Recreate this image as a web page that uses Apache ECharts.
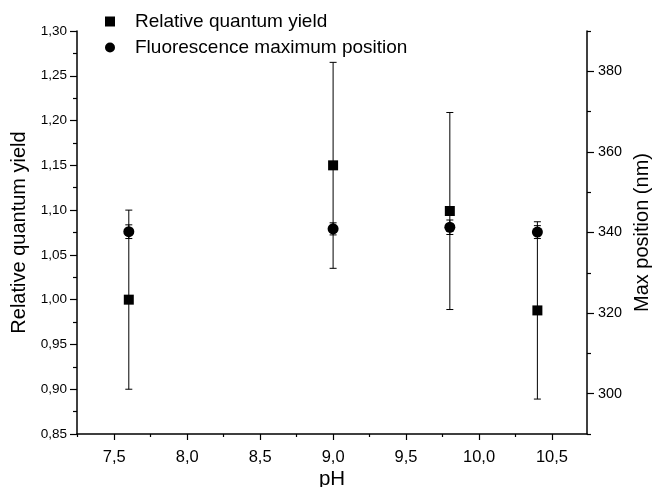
<!DOCTYPE html>
<html>
<head>
<meta charset="utf-8">
<script src="https://cdn.jsdelivr.net/npm/echarts@6/dist/echarts.min.js"></script>
<style>
	html, body { margin: 0; padding: 0; background: #fff; }
	#chart { width: 653px; height: 487px; }
</style>
</head>
<body>
<div id="chart"></div>
<script>
// pH values of the samples
const phValues = [7.6, 9.0, 9.8, 10.4];
// relative quantum yield (left axis) and its error
const yieldValues = [1.0, 1.15, 1.099, 0.988];
const yieldErrors = [0.1, 0.115, 0.11, 0.099];
// fluorescence maximum position, nm (right axis) and its error
const maxPosValues = [340.2, 340.9, 341.3, 340.1];
const maxPosErrors = [1.7, 1.5, 1.8, 1.6];

// tick positions
const xMajorTicks = [7.5, 8.0, 8.5, 9.0, 9.5, 10.0, 10.5];
const xMinorTicks = [7.25, 7.75, 8.25, 8.75, 9.25, 9.75, 10.25, 10.75];
const rightMajorTicks = [300, 320, 340, 360, 380];
const rightMinorTicks = [290, 310, 330, 350, 370, 390];

const FONT = '"Liberation Sans", Arial, sans-serif';
const comma = (v, d) => v.toFixed(d).replace('.', ',');

// error bar renderer
function errorBars(api) {
	const x = api.value(0);
	const lo = api.coord([x, api.value(1)]);
	const hi = api.coord([x, api.value(2)]);
	const cap = 3.5;
	const style = { stroke: '#000', lineWidth: 1 };
	return {
		type: 'group',
		children: [
			{ type: 'line', shape: { x1: lo[0], y1: lo[1], x2: hi[0], y2: hi[1] }, style: style },
			{ type: 'line', shape: { x1: lo[0] - cap, y1: lo[1], x2: lo[0] + cap, y2: lo[1] }, style: style },
			{ type: 'line', shape: { x1: hi[0] - cap, y1: hi[1], x2: hi[0] + cap, y2: hi[1] }, style: style },
		],
	};
}

const chart = echarts.init(document.getElementById('chart'));

const axisLine = { lineStyle: { color: '#000', width: 1.5 } };
const xMin = 7.245;
const xMax = 10.74;

const option = {
	animation: false,
	backgroundColor: '#fff',
	textStyle: { fontFamily: FONT },
	grid: { left: 77, right: 66, top: 31, bottom: 53, containLabel: false, outerBoundsMode: 'none' },
	legend: {
		orient: 'vertical',
		left: 100,
		top: 7,
		itemWidth: 10,
		itemHeight: 10,
		itemGap: 7,
		textStyle: { fontSize: 19, color: '#000', fontFamily: FONT, padding: [0, 0, 0, 15] },
		data: [
			{ name: 'Relative quantum yield', icon: 'rect' },
			{ name: 'Fluorescence maximum position', icon: 'circle' },
		],
	},
	xAxis: [
		{
			type: 'value',
			position: 'bottom',
			min: xMin,
			max: xMax,
			axisLine: axisLine,
			axisTick: { customValues: xMajorTicks, length: 6, lineStyle: { color: '#000', width: 1.2 } },
			axisLabel: {
				customValues: xMajorTicks,
				formatter: (v) => comma(v, 1),
				fontSize: 16.5,
				color: '#000',
				margin: 15,
				fontFamily: FONT,
			},
			splitLine: { show: false },
			name: 'pH',
			nameLocation: 'middle',
			nameGap: 35,
			nameMoveOverlap: false,
			nameTextStyle: { fontSize: 20.5, color: '#000', fontFamily: FONT },
		},
		{
			type: 'value',
			position: 'bottom',
			min: xMin,
			max: xMax,
			axisLine: { show: false },
			axisTick: { customValues: xMinorTicks, length: 3, lineStyle: { color: '#000', width: 1.2 } },
			axisLabel: { show: false },
			splitLine: { show: false },
		},
	],
	yAxis: [
		{
			type: 'value',
			position: 'left',
			min: 0.85,
			max: 1.3,
			interval: 0.05,
			axisLine: { show: true, lineStyle: { color: '#000', width: 1.5 } },
			axisTick: { show: true, length: 7, lineStyle: { color: '#000', width: 1.2 } },
			minorTick: { show: true, splitNumber: 2, length: 4, lineStyle: { color: '#000', width: 1.2 } },
			axisLabel: {
				formatter: (v) => comma(v, 2),
				fontSize: 13.5,
				color: '#000',
				margin: 10,
				fontFamily: FONT,
			},
			splitLine: { show: false },
			name: 'Relative quantum yield',
			nameLocation: 'middle',
			nameGap: 45,
			nameTextStyle: { fontSize: 20, color: '#000', fontFamily: FONT },
		},
		{
			type: 'value',
			position: 'right',
			min: 290,
			max: 390,
			axisLine: { show: true, lineStyle: { color: '#000', width: 1.5 } },
			axisTick: { show: true, customValues: rightMajorTicks, length: 7, lineStyle: { color: '#000', width: 1.2 } },
			axisLabel: {
				customValues: rightMajorTicks,
				fontSize: 14.4,
				color: '#000',
				margin: 11,
				fontFamily: FONT,
			},
			splitLine: { show: false },
			name: 'Max position (nm)',
			nameLocation: 'middle',
			nameGap: 45,
			nameTextStyle: { fontSize: 20, color: '#000', fontFamily: FONT },
		},
		{
			type: 'value',
			position: 'right',
			min: 290,
			max: 390,
			axisLine: { show: false },
			axisTick: { show: true, customValues: rightMinorTicks, length: 4, lineStyle: { color: '#000', width: 1.2 } },
			axisLabel: { show: false },
			splitLine: { show: false },
		},
	],
	series: [
		{
			type: 'custom',
			name: 'yieldErr',
			xAxisIndex: 0,
			yAxisIndex: 0,
			renderItem: (params, api) => errorBars(api),
			data: phValues.map((x, i) => [x, yieldValues[i] - yieldErrors[i], yieldValues[i] + yieldErrors[i]]),
			z: 1,
		},
		{
			type: 'custom',
			name: 'posErr',
			xAxisIndex: 0,
			yAxisIndex: 1,
			renderItem: (params, api) => errorBars(api),
			data: phValues.map((x, i) => [x, maxPosValues[i] - maxPosErrors[i], maxPosValues[i] + maxPosErrors[i]]),
			z: 1,
		},
		{
			type: 'scatter',
			name: 'Relative quantum yield',
			xAxisIndex: 0,
			yAxisIndex: 0,
			symbol: 'rect',
			symbolSize: 10,
			itemStyle: { color: '#000', opacity: 1 },
			data: phValues.map((x, i) => [x, yieldValues[i]]),
			z: 3,
		},
		{
			type: 'scatter',
			name: 'Fluorescence maximum position',
			xAxisIndex: 0,
			yAxisIndex: 1,
			symbol: 'circle',
			symbolSize: 11,
			itemStyle: { color: '#000', opacity: 1 },
			data: phValues.map((x, i) => [x, maxPosValues[i]]),
			z: 3,
		},
	],
};

chart.setOption(option);
</script>
</body>
</html>
